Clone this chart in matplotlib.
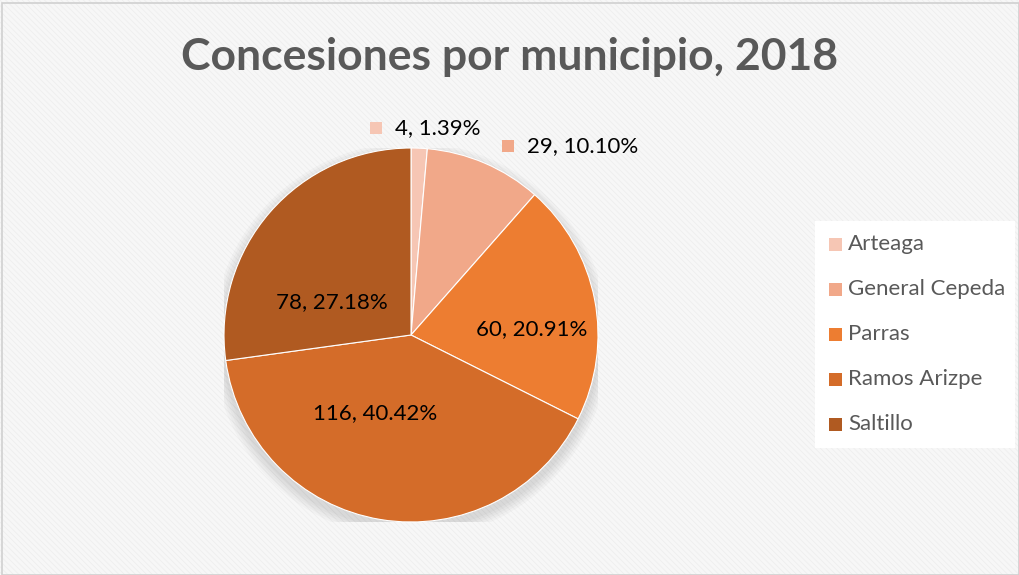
import matplotlib
matplotlib.use("Agg")
import matplotlib.pyplot as plt
from matplotlib.patches import Rectangle, Circle
import numpy as np

categories = ["Arteaga", "General Cepeda", "Parras", "Ramos Arizpe", "Saltillo"]
values = [4, 29, 60, 116, 78]
percent_labels = ["1.39%", "10.10%", "20.91%", "40.42%", "27.18%"]
colors = ["#F6C6B4", "#F1A889", "#ED7D31", "#D46C29", "#B05A21"]
title = "Concesiones por municipio, 2018"

plt.rcParams['font.family'] = ['Lato', 'DejaVu Sans']
plt.rcParams['hatch.linewidth'] = 0.6

W, H = 1020, 575
fig = plt.figure(figsize=(W / 100, H / 100), dpi=100)
fig.patch.set_facecolor("#F7F7F7")


def fig_xy(px, py):
    return px / W, 1 - py / H


# faint striped background
fig.patches.append(Rectangle((0, 0), 1, 1, transform=fig.transFigure, facecolor="none",
                             edgecolor="#EEEEEE", hatch="\\\\\\\\\\\\", linewidth=0, zorder=-5))
# border
fig.patches.append(Rectangle((2 / W, 0), (W - 3) / W, (H - 3) / H, transform=fig.transFigure,
                             fill=False, edgecolor="#D0D0D0", linewidth=1.2, zorder=-4))

cx, cy, r = 411, 335, 187
ax = fig.add_axes([(cx - r) / W, (H - cy - r) / H, 2 * r / W, 2 * r / H])
ax.set_facecolor("none")
ax.set_zorder(1)
# soft shadow
for k in range(5):
    ax.add_patch(Circle((0, -0.03), 1.0 + 0.012 * (k + 1), facecolor="black", alpha=0.025,
                        edgecolor="none", zorder=0))
wedges, _ = ax.pie(values, colors=colors, startangle=90, counterclock=False,
                   wedgeprops=dict(edgecolor="white", linewidth=0.8, zorder=2))
ax.set_aspect("equal")
ax.set_xlim(-1, 1)
ax.set_ylim(-1, 1)
ax.axis("off")

inside = {2: (532, 329), 3: (375, 413), 4: (332, 302)}
for i, (px, py) in inside.items():
    fig.text(*fig_xy(px, py), f"{values[i]}, {percent_labels[i]}", ha="center", va="center",
             fontsize=16, color="black", zorder=5)

outside = {0: (395, 128, 370, 122), 1: (527, 146, 502, 140)}
for i, (px, py, mx, my) in outside.items():
    fig.text(*fig_xy(px, py), f"{values[i]}, {percent_labels[i]}", ha="left", va="center",
             fontsize=16, color="black", zorder=5)
    fig.patches.append(Rectangle(fig_xy(mx, my + 12), 12 / W, 12 / H, transform=fig.transFigure,
                                 facecolor=colors[i], edgecolor="none", zorder=5))

fig.text(0.5, 1 - 57 / H, title, ha="center", va="center", fontsize=32, fontweight="bold",
         color="#595959", zorder=5)

# legend (manual layout)
fig.patches.append(Rectangle(fig_xy(815, 448), 200 / W, 227 / H, transform=fig.transFigure,
                             facecolor="white", edgecolor="none", zorder=2))
legend_y = [244, 289, 334, 379, 424]
for i, (name, ly) in enumerate(zip(categories, legend_y)):
    fig.patches.append(Rectangle(fig_xy(829, ly + 6.5), 13 / W, 13 / H, transform=fig.transFigure,
                                 facecolor=colors[i], edgecolor="none", zorder=3))
    fig.text(*fig_xy(848, ly), name, ha="left", va="center", fontsize=16, color="#595959", zorder=5)

fig.savefig("out.png", dpi=100, facecolor=fig.get_facecolor())
